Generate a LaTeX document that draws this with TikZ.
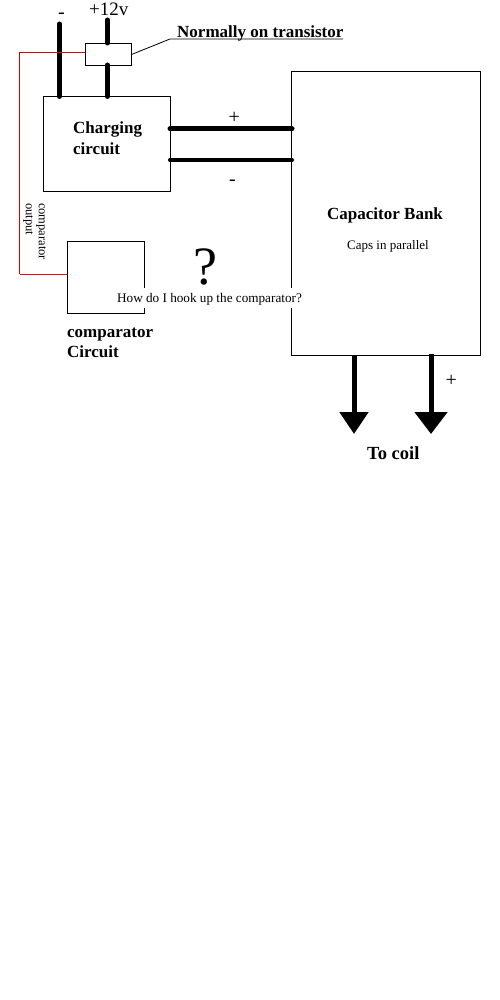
\documentclass[tikz,border=0pt]{standalone}
\usepackage{fontspec}
\setmainfont{Liberation Serif}
\usetikzlibrary{arrows.meta}
\tikzset{
  x=1pt,y=-1pt,
  boxn/.style={draw=black,line width=1pt,inner sep=0pt,anchor=north west},
  heavy/.style={line width=5pt,line cap=round},
  heavyb/.style={line width=4pt,line cap=round},
  lbl/.style={inner sep=0pt,anchor=base west,text=black},
  boldlbl/.style={lbl,font=\bfseries\fontsize{17}{20}\selectfont},
  plainlbl/.style={lbl,font=\fontsize{20}{22}\selectfont},
  smalllbl/.style={inner sep=0pt,font=\fontsize{12.5}{14}\selectfont},
  coilarrow/.style={line width=5pt,-{Triangle[length=22pt,width=#1]}},
}
\begin{document}
\begin{tikzpicture}
\useasboundingbox (0,0) rectangle (500,1000);
\fill[white] (0,0) rectangle (500,1000);
% boxes
\node[boxn,minimum width=127pt,minimum height=95pt] (charge) at (42.5,96) {};
\node[boxn,minimum width=189pt,minimum height=284pt] (bank) at (290.5,71) {};
\node[boxn,minimum width=77pt,minimum height=72pt] (comp) at (66.5,241) {};
\node[boxn,minimum width=45.5pt,minimum height=22pt] (trans) at (85,43) {};
% free ends
\coordinate (minus) at (59.5,24);
\coordinate (minusb) at (59.5,96.5);
\coordinate (plus) at (107.5,20);
\coordinate (plusb) at (107.5,96.5);
\coordinate (transT) at (107.5,43);
\coordinate (transB) at (107.5,65);
\coordinate (leadbend) at (170,39);
\coordinate (leadend) at (343,39);
\coordinate (redtl) at (19.5,53);
\coordinate (redbl) at (19.5,274);
\coordinate (chp) at (170,129);
\coordinate (bkp) at (292,129);
\coordinate (chm) at (170,160);
\coordinate (bkm) at (292,160);
\coordinate (bkl) at (354,355);
\coordinate (coill) at (354,434);
\coordinate (bkr) at (431,354);
\coordinate (coilr) at (431,434);
% wires
\draw[heavy] (minus) -- (minusb);
\draw[heavy] (plus) -- (transT);
\draw[heavy] (transB) -- (plusb);
\draw[heavy] (chp) -- (bkp);
\draw[heavyb] (chm) -- (bkm);
\draw[line width=0.8pt] (trans.east) -- (leadbend) -- (leadend);
\draw[red!85!black,line width=1pt] (trans.west |- redtl) -- (redtl) -- (redbl);
\draw[red,line width=1pt] (redbl) -- (comp.west |- redbl);
\draw[coilarrow=28pt] (bkl) -- (coill);
\draw[coilarrow=32pt] (bkr) -- (coilr);
% labels
\node[plainlbl] (lminus) at (58,19) {-};
\node[lbl,font=\fontsize{19}{22}\selectfont] (l12) at (89,16) {+12v};
\node[boldlbl] (ltrans) at (177,37.5) {Normally on transistor};
\node[boldlbl] (lch1) at (73,134) {Charging};
\node[boldlbl] (lch2) at (73,155) {circuit};
\node[plainlbl] (lplus) at (228.5,123.5) {+};
\node[plainlbl] (lminus2) at (229,186) {-};
\node[boldlbl] (lcap) at (327,219) {Capacitor Bank};
\node[lbl,font=\fontsize{13}{15}\selectfont] (lpar) at (347,249) {Caps in parallel};
\node[boldlbl] (lcomp1) at (67,337) {comparator};
\node[boldlbl] (lcomp2) at (67,357) {Circuit};
\node[plainlbl] (lplus3) at (445.5,386) {+};
\node[lbl,font=\bfseries\fontsize{18.5}{20}\selectfont] (lcoil) at (367,459) {To coil};
\node[smalllbl,rotate=-90,anchor=north west] (lout) at (33,203) {output};
\node[smalllbl,rotate=-90,anchor=north west] (lcmp) at (46,203) {comparator};
\node[lbl,font=\fontsize{54}{58}\selectfont] (lq) at (193.5,284) {?};
\node[fill=white,inner xsep=2pt,inner ysep=0pt,text height=14.5pt,text depth=5.5pt,font=\fontsize{13.2}{15}\selectfont] (lhow) at (209.5,297.5) {How do I hook up the comparator?};
\end{tikzpicture}
\end{document}
